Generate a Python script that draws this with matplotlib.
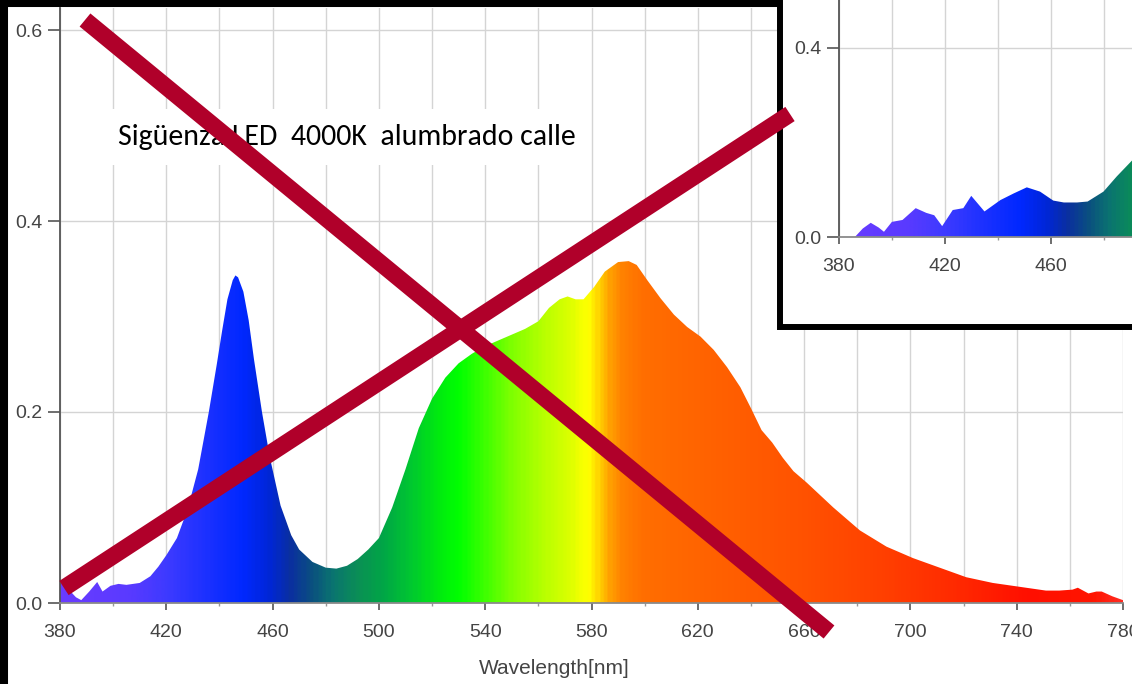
import matplotlib
matplotlib.use("Agg")
import matplotlib.pyplot as plt
import numpy as np
from matplotlib import font_manager
from matplotlib.colors import LinearSegmentedColormap
from matplotlib.lines import Line2D
from matplotlib.patches import Rectangle
from matplotlib.ticker import MultipleLocator

# main spectrum (Sigüenza LED 4000K)
main_wl = [380, 383, 386, 388, 391, 394, 396, 399, 402, 405, 410, 414, 417, 420,
           424, 428, 432, 436, 439, 441, 443, 445, 446, 447, 449, 451, 453, 456,
           459, 463, 467, 470, 475, 480, 484, 488, 492, 496, 500, 505, 510, 515,
           520, 525, 530, 535, 540, 545, 550, 555, 560, 564, 568, 571, 574, 577,
           581, 585, 590, 594, 597, 601, 606, 611, 616, 621, 626, 631, 636, 640,
           644, 648, 652, 656, 661, 671, 681, 691, 701, 711, 721, 731, 741, 751,
           756, 761, 763, 767, 770, 772, 776, 780]
main_val = [0.022, 0.015, 0.006, 0.003, 0.012, 0.022, 0.012, 0.018, 0.020, 0.019,
            0.021, 0.028, 0.038, 0.050, 0.068, 0.098, 0.140, 0.200, 0.250, 0.285,
            0.318, 0.338, 0.343, 0.341, 0.326, 0.296, 0.255, 0.200, 0.152, 0.102,
            0.071, 0.056, 0.043, 0.037, 0.036, 0.039, 0.046, 0.056, 0.068, 0.100,
            0.140, 0.183, 0.214, 0.236, 0.251, 0.261, 0.269, 0.275, 0.281, 0.287,
            0.295, 0.309, 0.318, 0.321, 0.318, 0.318, 0.331, 0.347, 0.357, 0.358,
            0.354, 0.338, 0.319, 0.302, 0.289, 0.279, 0.265, 0.247, 0.226, 0.204,
            0.181, 0.168, 0.152, 0.138, 0.126, 0.100, 0.076, 0.059, 0.047, 0.037,
            0.027, 0.021, 0.017, 0.013, 0.013, 0.014, 0.016, 0.010, 0.012, 0.012,
            0.007, 0.003]

# inset spectrum (other lamp, only the blue part is visible)
inset_wl = [386, 389, 392, 395, 397, 400, 404, 409, 413, 416, 419, 423, 427, 430,
            435, 441, 446, 451, 456, 461, 465, 470, 474, 480, 485, 491, 496]
inset_val = [0.0, 0.018, 0.030, 0.020, 0.011, 0.032, 0.036, 0.061, 0.051, 0.046,
             0.023, 0.057, 0.061, 0.087, 0.054, 0.078, 0.092, 0.105, 0.096, 0.077,
             0.073, 0.073, 0.075, 0.096, 0.128, 0.163, 0.200]

main_xticks = list(range(380, 781, 40))
main_yticks = [0.0, 0.2, 0.4, 0.6]
inset_xticks = [380, 420, 460]
inset_yticks = [0.0, 0.4]
title = "Sigüenza LED  4000K  alumbrado calle"

# wavelength -> colour stops for the gradient fill
stop_nm = [380, 405, 420, 435, 448, 458, 466, 474, 482, 492, 502, 512, 522, 530,
           540, 550, 562, 572, 576, 579, 583, 587, 592, 600, 625, 660, 690, 720,
           745, 770, 780]
stop_col = ["#6a3cff", "#5a3aff", "#3c3aff", "#1a30ff", "#0028ff", "#0026d8",
            "#0a2fa0", "#0a4f80", "#0a7470", "#0a9055", "#00a845", "#00c830",
            "#00ea10", "#00ff00", "#40ff00", "#80ff00", "#b8ff00", "#dcff00",
            "#f4ff00", "#ffff00", "#ffd000", "#ffa000", "#ff8000", "#ff6e00",
            "#ff6200", "#ff5200", "#ff4000", "#ff2800", "#ff0f00", "#ff1500",
            "#ff2a20"]
spec_cmap = LinearSegmentedColormap.from_list(
    "spec", [((n - 380) / 400, c) for n, c in zip(stop_nm, stop_col)])

installed = {f.name for f in font_manager.fontManager.ttflist}


def pick(*names):
    for n in names:
        if n in installed:
            return n
    return "DejaVu Sans"


tick_font = pick("Liberation Sans Narrow", "Liberation Sans")
title_font = pick("Carlito", "Lato", "Open Sans")
fs = 16 if tick_font == "Liberation Sans Narrow" else 14

W, H = 1132, 684
fig = plt.figure(figsize=(W / 100, H / 100), dpi=100)


def fx(px):
    return px / W


def fy(py):
    return 1 - py / H


def spectrum(ax, wl, val, x1, y1):
    poly = ax.fill_between(wl, val, color="none", lw=0)
    grad = np.linspace(380, x1, 600)[None, :]
    img = ax.imshow(grad, extent=[380, x1, 0, y1], aspect="auto", origin="lower",
                    cmap=spec_cmap, vmin=380, vmax=780, zorder=2,
                    interpolation="bilinear")
    img.set_clip_path(poly.get_paths()[0], transform=ax.transData)


def style(ax, xticks, yticks):
    ax.set_xticks(xticks)
    ax.set_yticks(yticks)
    ax.set_yticklabels(["%.1f" % v for v in yticks])
    ax.xaxis.set_minor_locator(MultipleLocator(20))
    ax.grid(True, which="both", axis="x", color="#d4d4d4", lw=1)
    ax.grid(True, which="major", axis="y", color="#d4d4d4", lw=1)
    ax.set_axisbelow(True)
    for s in ["top", "right"]:
        ax.spines[s].set_visible(False)
    ax.spines["left"].set_color("#555555")
    ax.spines["left"].set_linewidth(1.3)
    ax.spines["bottom"].set_color("#8a8a8a")
    ax.spines["bottom"].set_linewidth(1.3)
    ax.tick_params(axis="y", length=8.5, width=1.2, color="#555555", pad=4,
                   labelsize=fs, labelcolor="#444444")
    ax.tick_params(axis="x", which="major", length=5, width=1.2, color="#555555",
                   pad=10, labelsize=fs, labelcolor="#444444")
    ax.tick_params(axis="x", which="minor", length=2, width=1, color="#999999")
    for lab in ax.get_xticklabels() + ax.get_yticklabels():
        lab.set_fontfamily(tick_font)


# main chart
ymax = (603 - 8) / 955
ax = fig.add_axes([fx(60), fy(603), fx(1123) - fx(60), fy(8) - fy(603)])
spectrum(ax, main_wl, main_val, 780, ymax)
ax.set_xlim(380, 780)
ax.set_ylim(0, ymax)
style(ax, main_xticks, main_yticks)
ax.set_xlabel("Wavelength[nm]", fontsize=fs + 1, color="#444444", family=tick_font)
ax.xaxis.set_label_coords((554 - 60) / 1063, -(659 - 603) / 595)

# black frame of the main screenshot
fig.add_artist(Rectangle((fx(4), -0.2), 2, fy(3.5) + 0.2, transform=fig.transFigure,
                         fc="none", ec="black", lw=5.8, zorder=0.5))

# inset screenshot box
fig.add_artist(Rectangle((fx(780), fy(326.5)), 1, 1, transform=fig.transFigure,
                         fc="white", ec="black", lw=4.3, zorder=1))

ix1 = 380 + (1170 - 839) / 2.645
iy1 = (237 + 20) / 473
iax = fig.add_axes([fx(839), fy(237), fx(1170) - fx(839), fy(-20) - fy(237)])
iax.set_zorder(2)
iax.patch.set_visible(False)
spectrum(iax, inset_wl, inset_val, ix1, iy1)
iax.set_xlim(380, ix1)
iax.set_ylim(0, iy1)
style(iax, inset_xticks, inset_yticks)

fig.text(fx(118), fy(137), title, fontsize=21.5, family=title_font, color="black",
         ha="left", va="center", zorder=3,
         bbox=dict(fc="white", ec="none", pad=11))

# red cross
red = "#b0002a"
fig.add_artist(Line2D([fx(85), fx(829)], [fy(20), fy(632)], lw=12.2, color=red,
                      solid_capstyle="butt", zorder=5))
fig.add_artist(Line2D([fx(64), fx(790)], [fy(588), fy(114)], lw=12.2, color=red,
                      solid_capstyle="butt", zorder=5))

fig.savefig("out.png", dpi=100)
